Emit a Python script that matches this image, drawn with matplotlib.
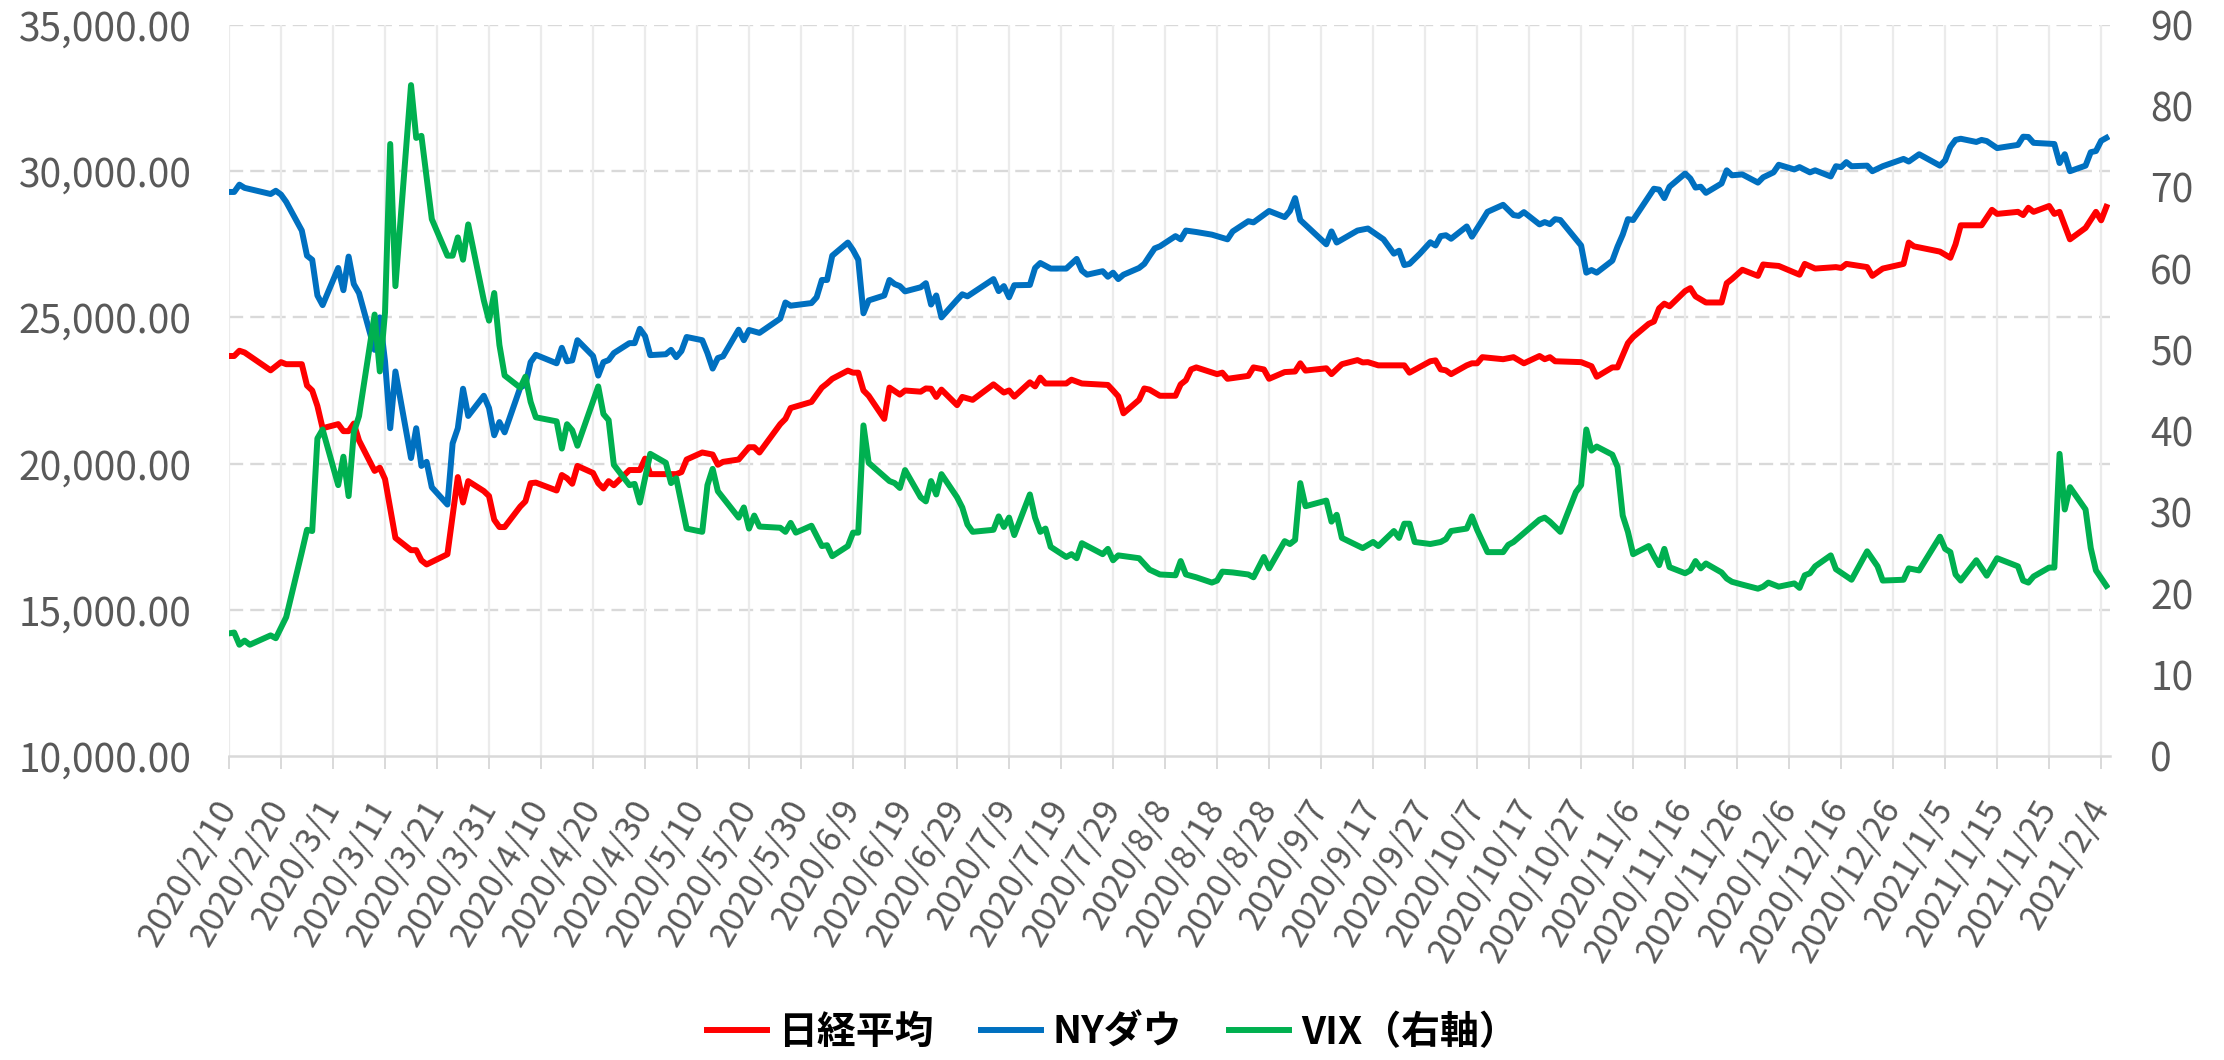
import matplotlib
matplotlib.use('Agg')
import matplotlib.pyplot as plt
import matplotlib.transforms as mtransforms
import pandas as pd

plt.rcParams['font.family'] = ['Noto Sans CJK JP', 'DejaVu Sans']

# 2020/2/10 からの経過日数と値
start = pd.Timestamp('2020-02-10')

nikkei_day = [0, 1, 2, 3, 8, 10, 11, 14, 15, 16, 17, 18, 21, 22, 23, 24, 25, 28, 29, 30,
              32, 35, 36, 37, 38, 42, 44, 45, 46, 49, 50, 51, 52, 53, 56, 57, 58, 59, 63, 64,
              65, 66, 67, 70, 71, 72, 73, 74, 77, 79, 80, 81, 86, 87, 88, 91, 93, 94, 95, 98,
              100, 101, 102, 106, 107, 108, 112, 114, 115, 116, 119, 120, 121, 122, 123, 126, 127, 129, 130, 133,
              134, 135, 136, 137, 140, 141, 143, 147, 149, 150, 151, 154, 155, 156, 157, 161, 162, 164, 169, 170,
              171, 172, 175, 176, 177, 179, 182, 183, 184, 185, 186, 190, 191, 192, 196, 197, 199, 200, 203, 205,
              206, 207, 211, 212, 214, 217, 218, 219, 221, 226, 227, 231, 232, 233, 234, 235, 238, 239, 240, 241,
              245, 247, 249, 252, 253, 254, 255, 260, 262, 263, 266, 267, 269, 270, 273, 274, 275, 276, 277, 280,
              281, 282, 284, 287, 288, 289, 291, 294, 295, 296, 298, 302, 303, 305, 309, 310, 311, 315, 316, 318,
              322, 323, 324, 329, 331, 332, 333, 337, 339, 340, 344, 345, 346, 347, 350, 351, 352, 354, 357, 359,
              360, 361]
nikkei = [23680, 23680, 23860, 23800, 23190, 23470, 23400, 23400, 22670, 22500, 21970, 21210, 21350, 21110, 21110, 21370, 20790, 19750, 19860, 19470,
          17460, 17040, 17040, 16690, 16550, 16900, 19540, 18670, 19400, 19060, 18890, 18080, 17830, 17830, 18530, 18710, 19330, 19350, 19080, 19610,
          19500, 19310, 19920, 19680, 19330, 19150, 19400, 19260, 19780, 19780, 20170, 19640, 19640, 19710, 20140, 20380, 20310, 19960, 20060, 20140,
          20560, 20560, 20380, 21350, 21530, 21900, 22110, 22600, 22740, 22900, 23180, 23110, 23110, 22500, 22320, 21530, 22600, 22360, 22500, 22460,
          22570, 22560, 22280, 22530, 22000, 22280, 22180, 22710, 22430, 22500, 22290, 22780, 22640, 22940, 22740, 22740, 22870, 22740, 22690, 22500,
          22300, 21720, 22180, 22570, 22530, 22320, 22320, 22710, 22850, 23220, 23290, 23060, 23110, 22900, 23000, 23290, 23220, 22900, 23130, 23150,
          23430, 23180, 23260, 23060, 23400, 23540, 23460, 23470, 23360, 23360, 23110, 23500, 23530, 23220, 23190, 23060, 23360, 23430, 23430, 23640,
          23570, 23640, 23430, 23680, 23570, 23640, 23500, 23470, 23330, 22970, 23290, 23290, 24120, 24330, 24780, 24860, 25310, 25470, 25380, 25900,
          26000, 25720, 25510, 25510, 26170, 26310, 26630, 26420, 26810, 26790, 26760, 26460, 26830, 26670, 26720, 26690, 26830, 26720, 26420, 26670,
          26830, 27560, 27430, 27250, 27040, 27500, 28150, 28150, 28680, 28540, 28610, 28500, 28750, 28610, 28810, 28540, 28610, 27670, 28060, 28610,
          28320, 28780]

dow_day = [0, 1, 2, 3, 8, 9, 10, 11, 14, 15, 16, 17, 18, 21, 22, 23, 24, 25, 28, 29,
           30, 31, 32, 35, 36, 37, 38, 39, 42, 43, 44, 45, 46, 49, 50, 51, 52, 53, 56, 57,
           58, 59, 63, 64, 65, 66, 67, 70, 71, 72, 73, 74, 77, 78, 79, 80, 81, 84, 85, 86,
           87, 88, 91, 92, 93, 94, 95, 98, 99, 100, 102, 106, 107, 108, 112, 113, 114, 115, 116, 119,
           120, 121, 122, 123, 126, 127, 128, 129, 130, 133, 134, 135, 136, 137, 140, 141, 142, 147, 148, 149,
           150, 151, 154, 155, 156, 158, 161, 163, 164, 165, 168, 169, 170, 171, 172, 175, 176, 177, 178, 179,
           182, 183, 184, 186, 189, 192, 193, 196, 197, 200, 203, 204, 205, 206, 211, 212, 213, 217, 219, 222,
           224, 225, 226, 227, 229, 231, 232, 233, 234, 235, 238, 239, 241, 242, 245, 247, 248, 249, 252, 253,
           254, 255, 256, 260, 261, 262, 263, 266, 267, 268, 269, 270, 274, 275, 276, 277, 280, 281, 282, 283,
           284, 287, 288, 289, 291, 294, 295, 297, 298, 301, 302, 304, 305, 308, 309, 310, 311, 312, 315, 316,
           318, 322, 323, 325, 329, 330, 331, 332, 333, 336, 337, 338, 340, 344, 345, 346, 347, 351, 352, 353,
           354, 357, 358, 359, 360, 361]
dow = [29290, 29290, 29540, 29430, 29220, 29330, 29200, 28950, 27970, 27110, 26970, 25750, 25420, 26690, 25930, 27080, 26140, 25830, 23890, 25000,
       23500, 21210, 23150, 20190, 21210, 19920, 20060, 19190, 18600, 20690, 21210, 22560, 21630, 22320, 21900, 20970, 21420, 21070, 22600, 22700,
       23470, 23720, 23430, 23960, 23500, 23530, 24220, 23680, 23010, 23470, 23540, 23780, 24120, 24120, 24610, 24360, 23710, 23740, 23890, 23640,
       23850, 24330, 24220, 23780, 23250, 23610, 23670, 24580, 24220, 24570, 24470, 24960, 25510, 25400, 25490, 25690, 26280, 26280, 27110, 27560,
       27300, 26970, 25140, 25580, 25750, 26280, 26140, 26070, 25890, 26030, 26170, 25440, 25750, 25000, 25600, 25790, 25720, 26310, 25900, 26070,
       25690, 26100, 26110, 26690, 26860, 26670, 26670, 27000, 26600, 26460, 26580, 26390, 26530, 26310, 26460, 26690, 26830, 27100, 27360, 27430,
       27780, 27670, 27970, 27920, 27830, 27670, 27940, 28290, 28250, 28640, 28430, 28640, 29080, 28330, 27500, 27940, 27560, 27970, 28040, 27670,
       27180, 27280, 26790, 26830, 27180, 27570, 27460, 27780, 27810, 27690, 28110, 27760, 28320, 28610, 28850, 28500, 28470, 28600, 28180, 28260,
       28190, 28360, 28330, 27460, 26530, 26620, 26530, 26940, 27420, 27830, 28360, 28330, 29400, 29370, 29080, 29470, 29920, 29750, 29440, 29470,
       29260, 29580, 30030, 29860, 29890, 29610, 29790, 29960, 30220, 30060, 30140, 29960, 30030, 29820, 30170, 30140, 30310, 30170, 30190, 30000,
       30170, 30420, 30330, 30580, 30190, 30370, 30830, 31070, 31110, 31000, 31070, 31030, 30790, 30900, 31180, 31170, 30970, 30930, 30280, 30580,
       30000, 30190, 30650, 30690, 31040, 31140]

vix_day = [0, 1, 2, 3, 4, 8, 9, 11, 14, 15, 16, 17, 18, 21, 22, 23, 24, 25, 28, 29,
           30, 31, 32, 35, 36, 37, 39, 42, 43, 44, 45, 46, 49, 50, 51, 52, 53, 56, 57, 58,
           59, 63, 64, 65, 66, 67, 71, 72, 73, 74, 77, 78, 79, 81, 84, 85, 86, 88, 91, 92,
           93, 94, 98, 99, 100, 101, 102, 106, 107, 108, 109, 112, 114, 115, 116, 119, 120, 121, 122, 123,
           127, 128, 129, 130, 133, 134, 135, 136, 137, 140, 141, 142, 143, 147, 148, 149, 150, 151, 154, 155,
           156, 157, 158, 161, 162, 163, 164, 168, 169, 170, 171, 175, 177, 179, 182, 183, 184, 186, 189, 190,
           191, 193, 196, 197, 199, 200, 203, 204, 205, 206, 207, 211, 212, 213, 214, 218, 220, 221, 224, 225,
           226, 227, 228, 231, 233, 234, 235, 238, 239, 240, 242, 245, 246, 247, 249, 252, 253, 254, 256, 259,
           260, 261, 262, 263, 266, 267, 268, 269, 270, 273, 274, 275, 276, 277, 280, 281, 282, 283, 284, 287,
           288, 289, 291, 294, 295, 296, 298, 301, 302, 303, 304, 305, 308, 309, 312, 315, 317, 318, 322, 323,
           325, 329, 330, 331, 332, 333, 336, 338, 340, 344, 345, 346, 347, 350, 351, 352, 353, 354, 357, 358,
           359, 361]
vix = [15.1, 15.2, 13.7, 14.2, 13.7, 14.85, 14.5, 17.1, 25.1, 27.85, 27.7, 39.1, 40.2, 33.35, 36.85, 32.0, 39.85, 41.85, 54.35, 47.35,
       54.6, 75.35, 57.85, 82.6, 76.1, 76.35, 66.1, 61.6, 61.6, 63.85, 61.1, 65.45, 56.1, 53.6, 57.0, 50.6, 46.85, 45.35, 46.7, 43.6,
       41.7, 41.2, 37.85, 40.85, 40.1, 38.2, 45.5, 42.1, 41.35, 35.85, 33.35, 33.5, 31.2, 37.2, 36.1, 33.6, 34.2, 28.0, 27.6, 33.35,
       35.35, 32.6, 29.35, 30.6, 28.0, 29.6, 28.25, 28.1, 27.6, 28.7, 27.5, 28.35, 25.85, 25.95, 24.6, 25.85, 27.5, 27.5, 40.7, 36.1,
       33.85, 33.6, 33.0, 35.2, 31.85, 31.35, 33.85, 32.2, 34.7, 31.85, 30.6, 28.5, 27.6, 27.85, 29.5, 28.2, 29.35, 27.2, 32.2, 29.35,
       27.6, 28.0, 25.75, 24.5, 24.85, 24.35, 26.2, 24.85, 25.5, 24.1, 24.7, 24.35, 22.95, 22.35, 22.25, 24.0, 22.35, 22.0, 21.35, 21.6,
       22.7, 22.6, 22.35, 22.0, 24.5, 23.1, 26.45, 26.1, 26.6, 33.6, 30.75, 31.45, 28.85, 29.7, 26.85, 25.6, 26.35, 25.85, 27.7, 26.85,
       28.6, 28.6, 26.35, 26.1, 26.35, 26.7, 27.7, 28.0, 29.5, 27.85, 25.1, 25.1, 26.0, 26.35, 27.45, 29.1, 29.35, 28.85, 27.6, 32.5,
       33.35, 40.2, 37.6, 38.1, 37.1, 35.6, 29.6, 27.6, 24.85, 25.85, 24.6, 23.5, 25.5, 23.25, 22.5, 22.85, 24.0, 23.1, 23.7, 22.6,
       21.85, 21.45, 21.1, 20.6, 20.85, 21.35, 20.85, 21.25, 20.7, 22.25, 22.5, 23.35, 24.7, 23.0, 21.7, 25.2, 23.35, 21.6, 21.7, 23.1,
       22.85, 27.0, 25.5, 25.1, 22.35, 21.6, 24.1, 22.2, 24.35, 23.35, 21.6, 21.35, 22.1, 23.2, 23.2, 37.2, 30.35, 33.1, 30.35, 25.6,
       22.85, 20.95]

labels = ['日経平均', 'NYダウ', 'VIX（右軸）']
colors = ['#FF0000', '#0070C0', '#00B050']

nikkei_dates = start + pd.to_timedelta(nikkei_day, unit='D')
dow_dates = start + pd.to_timedelta(dow_day, unit='D')
vix_dates = start + pd.to_timedelta(vix_day, unit='D')

fig = plt.figure(figsize=(22.24, 10.6), dpi=100)
ax = fig.add_axes([229 / 2224, 1 - 756 / 1060, (2110 - 229) / 2224, (756 - 25) / 1060])
ax2 = ax.twinx()

lw = 4.3
l1, = ax.plot(nikkei_dates, nikkei, color=colors[0], lw=lw, label=labels[0], solid_joinstyle='round')
l2, = ax.plot(dow_dates, dow, color=colors[1], lw=lw, label=labels[1], solid_joinstyle='round')
l3, = ax2.plot(vix_dates, vix, color=colors[2], lw=lw, label=labels[2], solid_joinstyle='round')

# 軸の範囲
ax.set_xlim(start, start + pd.Timedelta(days=361.7))
ax.set_ylim(10000, 35000)
ax2.set_ylim(0, 90)

# 目盛り
ax.set_yticks(range(10000, 35001, 5000))
ax.set_yticklabels([f'{v:,.2f}' for v in range(10000, 35001, 5000)])
ax2.set_yticks(range(0, 91, 10))

ticks = [start + pd.Timedelta(days=d) for d in range(0, 361, 10)]
ax.set_xticks(ticks)
ax.set_xticklabels([f'{t.year}/{t.month}/{t.day}' for t in ticks],
                   rotation=60, ha='right', va='center', rotation_mode='anchor')
offset = mtransforms.ScaledTranslation(7 / 100, 0, fig.dpi_scale_trans)
for lab in ax.get_xticklabels():
    lab.set_transform(lab.get_transform() + offset)

ax.tick_params(axis='y', length=0, labelsize=28, labelcolor='#595959', pad=27)
ax2.tick_params(axis='y', length=0, labelsize=28, labelcolor='#595959', pad=29)
ax.tick_params(axis='x', length=9.5, width=1.4, color='#D9D9D9', labelsize=25,
               labelcolor='#595959', pad=24)

# 格線
ax.grid(axis='x', color='#EBEBEB', lw=1.6)
for v in range(15000, 35001, 5000):
    ax.axhline(v, color='#D9D9D9', lw=1.7, ls=(0, (6, 3)), zorder=0.5)
ax.set_axisbelow(True)

for sp in ['top', 'left', 'right']:
    ax.spines[sp].set_visible(False)
    ax2.spines[sp].set_visible(False)
ax.spines['bottom'].set_color('#D9D9D9')
ax.spines['bottom'].set_linewidth(1.8)
ax2.spines['bottom'].set_visible(False)

fig.legend(handles=[l1, l2, l3], loc='center', bbox_to_anchor=(0.5, 0.026), ncol=3,
           frameon=False, handlelength=1.55, handletextpad=0.3, columnspacing=1.2,
           borderpad=0, prop={'size': 28, 'weight': 'bold'})

plt.savefig('out.png', dpi=100)
